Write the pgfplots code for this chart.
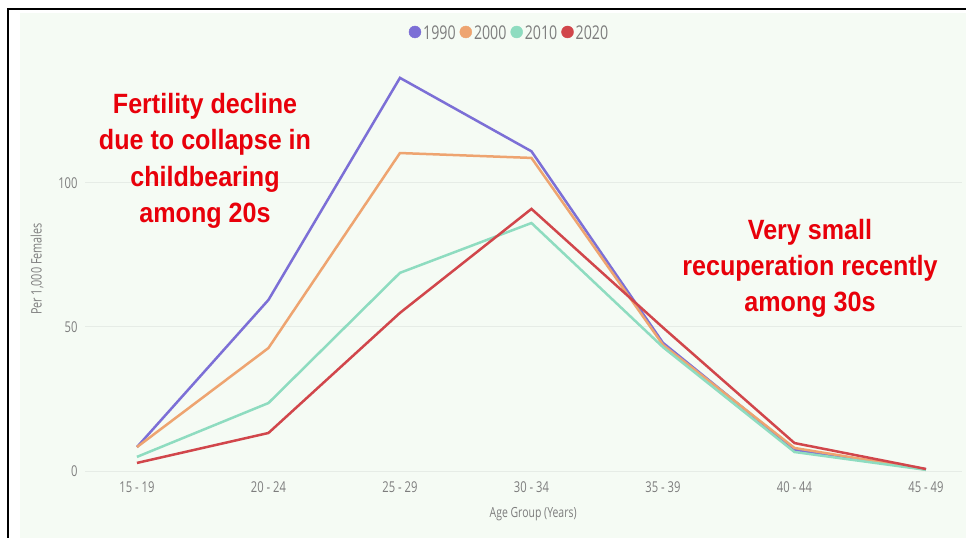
\documentclass[border=0pt]{standalone}
\usepackage{fontspec}
\setmainfont{Open Sans}[FakeStretch=0.75]
\newfontfamily\annotfont{Liberation Sans}[FakeStretch=0.9]
\usepackage{pgfplots}
\pgfplotsset{compat=1.18}

\definecolor{bgc}{RGB}{245,251,244}
\definecolor{gridc}{RGB}{230,236,230}
\definecolor{tickc}{RGB}{125,125,125}
\definecolor{c1990}{RGB}{124,111,214}
\definecolor{c2000}{RGB}{238,164,112}
\definecolor{c2010}{RGB}{142,220,192}
\definecolor{c2020}{RGB}{209,70,75}
\definecolor{annotred}{RGB}{232,0,10}

% Age-specific fertility rates, births per 1,000 females
\pgfplotstableread{
idx r1990 r2000 r2010 r2020
0   8.3   8.3   4.9   2.8
1   59.4  42.7  23.6  13.2
2   136.5 110.4 68.8  54.9
3   111.0 108.7 86.1  91.0
4   44.5  43.8  43.0  49.8
5   7.4   8.0   6.6   9.7
6   0.6   0.5   0.4   0.7
}\ratetable

\begin{document}
\begin{tikzpicture}
\path[use as bounding box] (0bp,0bp) rectangle (966bp,538bp);
\fill[white] (0bp,0bp) rectangle (966bp,538bp);
\fill[bgc] (20bp,0bp) rectangle (966bp,525bp);
\draw[black, line width=2bp] (7.5bp,0bp) -- (7.5bp,528.5bp) -- (966bp,528.5bp);

\begin{axis}[
  at={(85bp,60bp)}, anchor=south west,
  scale only axis, width=877bp, height=418bp,
  xmin=-0.395, xmax=6.274, ymin=-2.43, ymax=142.7,
  axis line style={draw=none},
  major tick length=0pt,
  tick style={draw=none},
  xtick={0,1,2,3,4,5,6},
  xticklabels={15 - 19, 20 - 24, 25 - 29, 30 - 34, 35 - 39, 40 - 44, 45 - 49},
  ytick={0,50,100},
  ymajorgrids,
  grid style={draw=gridc, line width=1bp},
  /pgf/number format/assume math mode=true,
  tick label style={font=\fontsize{15}{17}\selectfont, text=tickc},
  yticklabel style={xshift=-4bp},
  xlabel={Age Group (Years)},
  xlabel style={at={(axis description cs:0.511,-0.086)}, anchor=center,
    font=\fontsize{14}{16}\selectfont, text=tickc},
  ylabel={Per 1,000 Females},
  ylabel style={at={(axis description cs:-0.0547,0.5)}, anchor=center,
    font=\fontsize{14.5}{16}\selectfont, text=tickc},
  legend columns=4,
  legend style={draw=none, fill=none, at={(axis description cs:0.484,1.0646)},
    anchor=center, font=\fontsize{19}{21}\selectfont, text=tickc,
    /tikz/every odd column/.append style={column sep=0bp},
    /tikz/every even column/.append style={column sep=2bp},
    inner sep=0pt},
  legend cell align=left,
]
\addlegendimage{legend image code/.code={\fill[c1990] (7bp,1bp) circle (6bp);}}
\addlegendentry{1990}
\addlegendimage{legend image code/.code={\fill[c2000] (7bp,1bp) circle (6bp);}}
\addlegendentry{2000}
\addlegendimage{legend image code/.code={\fill[c2010] (7bp,1bp) circle (6bp);}}
\addlegendentry{2010}
\addlegendimage{legend image code/.code={\fill[c2020] (7bp,1bp) circle (6bp);}}
\addlegendentry{2020}

\addplot[c1990, line width=2.5bp, forget plot] table[x=idx, y=r1990] {\ratetable};
\addplot[c2000, line width=2.5bp, forget plot] table[x=idx, y=r2000] {\ratetable};
\addplot[c2010, line width=2.5bp, forget plot] table[x=idx, y=r2010] {\ratetable};
\addplot[c2020, line width=2.5bp, forget plot] table[x=idx, y=r2020] {\ratetable};
\end{axis}

\node[annotred, align=center, font=\annotfont\bfseries\fontsize{28}{36.5}\selectfont]
  at (205bp,377bp) {Fertility decline\\due to collapse in\\childbearing\\among 20s};
\node[annotred, align=center, font=\annotfont\bfseries\fontsize{28}{36}\selectfont]
  at (810bp,270bp) {Very small\\recuperation recently\\among 30s};
\end{tikzpicture}
\end{document}
